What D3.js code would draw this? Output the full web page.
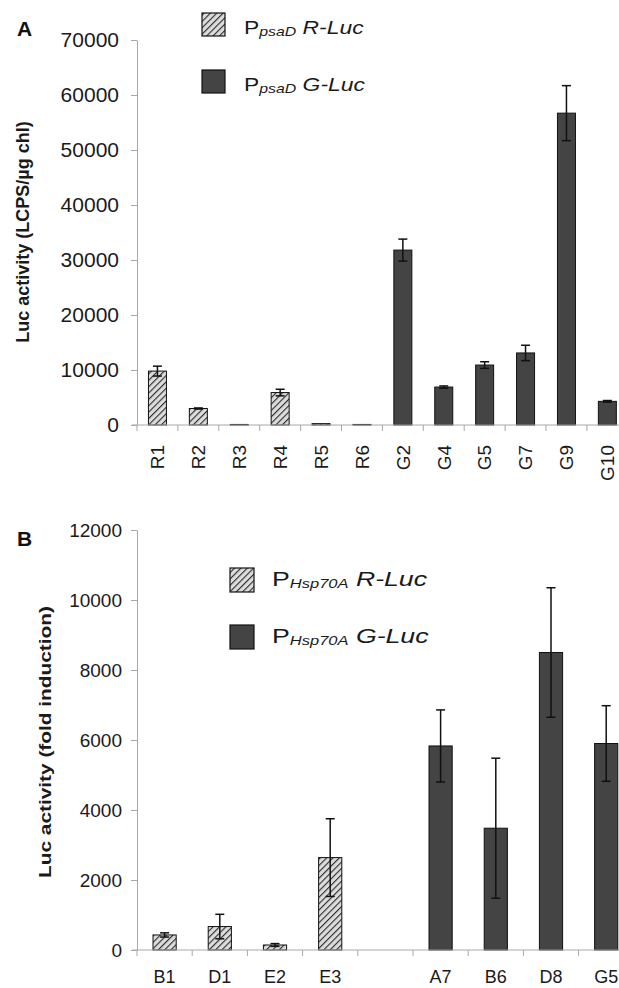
<!DOCTYPE html>
<html>
<head>
<meta charset="utf-8">
<script src="https://cdnjs.cloudflare.com/ajax/libs/d3/7.8.5/d3.min.js"></script>
<style>
body{margin:0;background:#fff;}
svg{font-family:"Liberation Sans",Arial,sans-serif;}
.axis path,.axis line{stroke:#a8a8a8;}
.axis text{fill:#1a1a1a;}
</style>
</head>
<body>
<svg id="fig" width="619" height="988"></svg>
<script>
// panel A data
var catsA=["R1","R2","R3","R4","R5","R6","G2","G4","G5","G7","G9","G10"];
var valsA=[9800,3000,100,5900,250,100,31800,6900,10900,13100,56700,4300];
var errA=[900,100,0,600,0,0,2000,200,600,1400,5000,150];
var typeA=["R","R","R","R","R","R","G","G","G","G","G","G"];
var ticksA=[0,10000,20000,30000,40000,50000,60000,70000];

// panel B data (empty slot between the two groups)
var catsB=["B1","D1","E2","E3","","A7","B6","D8","G5"];
var valsB=[430,670,143,2640,null,5830,3480,8500,5900];
var errB=[60,350,40,1110,0,1030,2000,1850,1080];
var typeB=["R","R","R","R","","G","G","G","G"];
var ticksB=[0,2000,4000,6000,8000,10000,12000];

var svg=d3.select("#fig");

var defs=svg.append("defs");
var pat=defs.append("pattern").attr("id","hatch")
  .attr("patternUnits","userSpaceOnUse").attr("width",4.5).attr("height",4.5)
  .attr("patternTransform","rotate(45)");
pat.append("rect").attr("width",4.5).attr("height",4.5).attr("fill","#dcdcdc");
pat.append("line").attr("x1",0).attr("y1",0).attr("x2",0).attr("y2",4.5)
  .attr("stroke","#2a2a2a").attr("stroke-width",2.2);

function fillFor(t){ return t=="R" ? "url(#hatch)" : "#444"; }

function drawPanel(o){
  var x=d3.scaleBand().domain(o.cats.map(function(d,i){return i;})).range(o.xr).padding(0);
  var y=d3.scaleLinear().domain([0,o.ymax]).range(o.yr);
  var g=svg.append("g");

  // y axis
  g.append("g").attr("class","axis").attr("transform","translate("+o.xr[0]+",0)")
    .call(d3.axisLeft(y).tickValues(o.ticks).tickSize(6).tickPadding(o.pad).tickSizeOuter(0).tickFormat(d3.format("d")))
    .call(function(a){a.selectAll("text").style("font-size",o.tickFont+"px");});

  // bars
  var bw=x.bandwidth()*o.barFrac;
  var idx=o.vals.map(function(d,i){return i;}).filter(function(i){return o.vals[i]!=null;});
  g.selectAll("rect.bar").data(idx).enter().append("rect")
    .attr("x",function(i){return x(i)+(x.bandwidth()-bw)/2;})
    .attr("y",function(i){return y(o.vals[i]);})
    .attr("width",bw)
    .attr("height",function(i){return y(0)-y(o.vals[i]);})
    .attr("fill",function(i){return fillFor(o.types[i]);})
    .attr("stroke","#111").attr("stroke-width",1);

  // error bars
  var eb=g.selectAll("g.err").data(idx.filter(function(i){return o.err[i]>0;})).enter().append("g");
  eb.append("line")
    .attr("x1",function(i){return x(i)+x.bandwidth()/2;}).attr("x2",function(i){return x(i)+x.bandwidth()/2;})
    .attr("y1",function(i){return y(o.vals[i]+o.err[i]);}).attr("y2",function(i){return y(o.vals[i]-o.err[i]);})
    .attr("stroke","#111").attr("stroke-width",1.5);
  [1,-1].forEach(function(s){
    eb.append("line")
      .attr("x1",function(i){return x(i)+x.bandwidth()/2-4.5;}).attr("x2",function(i){return x(i)+x.bandwidth()/2+4.5;})
      .attr("y1",function(i){return y(o.vals[i]+s*o.err[i]);}).attr("y2",function(i){return y(o.vals[i]+s*o.err[i]);})
      .attr("stroke","#111").attr("stroke-width",1.5);
  });

  // x axis line + boundary ticks
  var xa=g.append("g").attr("class","axis");
  xa.append("line").attr("x1",o.xr[0]-5).attr("x2",o.xr[1]).attr("y1",y(0)).attr("y2",y(0));
  var bounds=x.domain().map(function(i){return x(i);});
  xa.selectAll("line.bt").data(bounds).enter().append("line")
    .attr("x1",function(d){return d;}).attr("x2",function(d){return d;})
    .attr("y1",y(0)).attr("y2",y(0)+6);

  // x labels
  var lab=g.selectAll("text.xl").data(o.cats).enter().append("text")
    .attr("fill","#1a1a1a").style("font-size",o.xFont+"px")
    .text(function(d){return d;});
  if(o.rotate){
    lab.attr("text-anchor","end")
      .attr("transform",function(d,i){return "translate("+(x(i)+x.bandwidth()/2+o.xFont*0.36)+","+(y(0)+o.xOff)+") rotate(-90)";});
  } else {
    lab.attr("text-anchor","middle")
      .attr("x",function(d,i){return x(i)+x.bandwidth()/2;})
      .attr("y",y(0)+o.xOff);
  }

  // y title
  var tt=g.append("text").attr("text-anchor","middle")
    .attr("transform","translate("+o.titleX+","+o.titleY+") rotate(-90)")
    .style("font-size",o.titleFont+"px").style("font-weight","bold").attr("fill","#1a1a1a")
    .text(o.title);
  if(o.titleLen) tt.attr("textLength",o.titleLen).attr("lengthAdjust","spacingAndGlyphs");

  // panel letter
  g.append("text").attr("x",o.letterPos[0]).attr("y",o.letterPos[1])
    .style("font-size","21px").style("font-weight","bold").attr("fill","#111").text(o.letter);

  // legend
  var lg=g.append("g");
  ["R","G"].forEach(function(t,k){
    var yy=o.leg.y+k*o.leg.dy;
    lg.append("rect").attr("x",o.leg.x).attr("y",yy).attr("width",o.leg.size).attr("height",o.leg.size)
      .attr("fill",fillFor(t)).attr("stroke","#111").attr("stroke-width",1.2);
    var tx=lg.append("text")
      .attr("transform","translate("+(o.leg.x+o.leg.size+o.leg.gap)+","+(yy+o.leg.base)+") scale("+o.leg.sx+",1)")
      .attr("fill","#1a1a1a").style("font-size",o.leg.font+"px");
    tx.append("tspan").text("P");
    tx.append("tspan").style("font-size",o.leg.sub+"px").style("font-style","italic").attr("dy",2).text(o.promoter);
    tx.append("tspan").style("font-style","italic").attr("dy",-2).text("\u00a0"+t+"-Luc");
  });
}

drawPanel({
  cats:catsA, vals:valsA, err:errA, types:typeA, ticks:ticksA, ymax:70000,
  xr:[137,137+12*40.9], yr:[425,40], barFrac:0.44, pad:12, tickFont:21,
  rotate:true, xFont:19, xOff:20,
  title:"Luc activity (LCPS/\u00b5g chl)", titleX:29, titleY:232, titleFont:18,
  letter:"A", letterPos:[17,36],
  promoter:"psaD",
  leg:{x:202,y:13,dy:57,size:23,gap:19,font:18,sub:12.5,base:21,sx:1.27}
});

drawPanel({
  cats:catsB, vals:valsB, err:errB, types:typeB, ticks:ticksB, ymax:12000,
  xr:[137,137+9*55.2], yr:[950,530], barFrac:0.42, pad:9, tickFont:19,
  rotate:false, xFont:18, xOff:33,
  title:"Luc activity (fold induction)", titleX:51, titleY:742, titleFont:17, titleLen:272,
  letter:"B", letterPos:[17,546],
  promoter:"Hsp70A",
  leg:{x:230,y:568,dy:57,size:24,gap:18,font:21,sub:13,base:18,sx:1.27}
});
</script>
</body>
</html>
